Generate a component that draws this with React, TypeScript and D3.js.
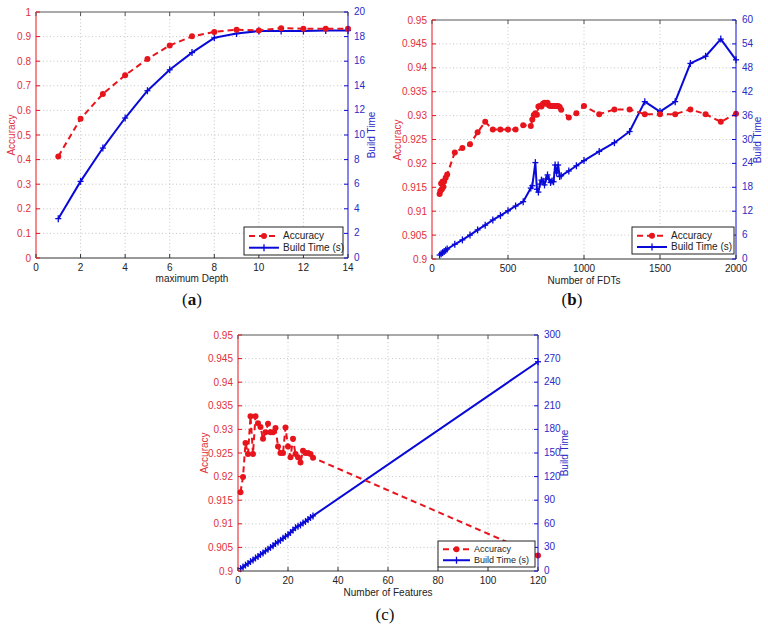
import React from "react";
import * as d3 from "d3";

// ---------- Panel (a): maximum Depth ----------
const depthX = [1, 2, 3, 4, 5, 6, 7, 8, 9, 10, 11, 12, 13, 14];
const depthAcc = [0.413, 0.566, 0.667, 0.743, 0.809, 0.864, 0.901, 0.919, 0.928, 0.925, 0.934, 0.932, 0.932, 0.932];
const depthTime = [3.2, 6.23, 8.94, 11.38, 13.6, 15.3, 16.7, 17.9, 18.25, 18.45, 18.45, 18.45, 18.5, 18.5];
const depthXTicks = [0, 2, 4, 6, 8, 10, 12, 14];
const depthAccTicks = [0, 0.1, 0.2, 0.3, 0.4, 0.5, 0.6, 0.7, 0.8, 0.9, 1];
const depthTimeTicks = [0, 2, 4, 6, 8, 10, 12, 14, 16, 18, 20];

// ---------- Panel (b): Number of FDTs ----------
const fdtAccX = [50, 55, 60, 65, 70, 75, 80, 90, 100, 150, 200, 250, 300, 350, 400, 450, 500, 550, 600, 650, 660, 670, 680, 690, 700, 710, 720, 730, 740, 750, 760, 770, 780, 790, 800, 810, 820, 830, 840, 850, 900, 950, 1000, 1100, 1200, 1300, 1400, 1500, 1600, 1700, 1800, 1900, 2000];
const fdtAcc = [0.9136, 0.9142, 0.9158, 0.9146, 0.9162, 0.9151, 0.9162, 0.917, 0.9177, 0.9223, 0.9232, 0.924, 0.9265, 0.9287, 0.9271, 0.9271, 0.9271, 0.9271, 0.928, 0.9278, 0.9292, 0.9301, 0.9305, 0.9302, 0.9319, 0.932, 0.9319, 0.9325, 0.9327, 0.9325, 0.9327, 0.9321, 0.932, 0.932, 0.932, 0.932, 0.932, 0.932, 0.9318, 0.9312, 0.9296, 0.9305, 0.932, 0.9303, 0.9313, 0.9313, 0.9303, 0.9303, 0.9303, 0.9313, 0.9303, 0.9287, 0.9304];
const fdtTimeX = [50, 60, 70, 80, 90, 100, 150, 200, 250, 300, 350, 400, 450, 500, 550, 600, 650, 660, 680, 690, 700, 710, 720, 730, 740, 750, 760, 770, 780, 790, 800, 810, 820, 830, 840, 850, 900, 950, 1000, 1100, 1200, 1300, 1400, 1500, 1600, 1700, 1800, 1900, 2000];
const fdtTime = [1.0, 1.3, 1.6, 1.9, 2.2, 2.5, 3.7, 4.8, 6.0, 7.3, 8.5, 9.8, 10.9, 12.1, 13.3, 14.4, 17.8, 18.4, 24.2, 17.5, 16.8, 18.8, 19.8, 19.5, 18.6, 20.1, 21.1, 20.0, 19.2, 19.6, 19.4, 23.6, 21.6, 23.6, 20.7, 20.9, 22.1, 23.4, 24.7, 27.0, 29.2, 32.0, 39.5, 37.0, 39.5, 49.1, 50.9, 55.2, 50.0];
const fdtXTicks = [0, 500, 1000, 1500, 2000];
const fdtAccTicks = [0.9, 0.905, 0.91, 0.915, 0.92, 0.925, 0.93, 0.935, 0.94, 0.945, 0.95];
const fdtTimeTicks = [0, 6, 12, 18, 24, 30, 36, 42, 48, 54, 60];

// ---------- Panel (c): Number of Features ----------
const featX = [1, 2, 3, 4, 5, 6, 7, 8, 9, 10, 11, 12, 13, 14, 15, 16, 17, 18, 19, 20, 21, 22, 23, 24, 25, 26, 27, 28, 29, 30, 120];
const featAcc = [0.9167, 0.9199, 0.9271, 0.9248, 0.9328, 0.9248, 0.9328, 0.9313, 0.9305, 0.928, 0.9294, 0.9312, 0.9294, 0.9294, 0.9303, 0.9264, 0.925, 0.925, 0.9304, 0.9264, 0.9241, 0.928, 0.9248, 0.9241, 0.923, 0.9255, 0.925, 0.925, 0.9248, 0.924, 0.9033];
const featTime = [3, 5, 7.5, 9.5, 12, 14, 16.5, 18.5, 21, 23, 25.5, 27.5, 30, 32, 35, 37, 39, 41.5, 44, 46, 49, 52, 55, 57, 58.5, 61, 63, 65.5, 68, 70, 266];
const featXTicks = [0, 20, 40, 60, 80, 100, 120];
const featAccTicks = [0.9, 0.905, 0.91, 0.915, 0.92, 0.925, 0.93, 0.935, 0.94, 0.945, 0.95];
const featTimeTicks = [0, 30, 60, 90, 120, 150, 180, 210, 240, 270, 300];

const RED = "#e8141c";
const BLUE = "#0a0ad8";
const RED_TXT = "#e0303a";
const BLUE_TXT = "#2a2ac8";
const FONT = "'Liberation Sans', Arial, Helvetica, sans-serif";

type PanelProps = {
  box: [number, number, number, number];
  xTicks: number[];
  accTicks: number[];
  timeTicks: number[];
  accX: number[];
  acc: number[];
  timeX: number[];
  time: number[];
  xLabel: string;
  accLabelX: number;
  timeLabelX: number;
  labelY: number;
  xTickDy: number;
  xLabelY: number;
  legend: [number, number, number, number];
  legendFont: number;
  legendLine: number;
};

function fmt(v: number) {
  return String(+v.toFixed(3));
}

function Panel(p: PanelProps) {
  const [x0, y0, x1, y1] = p.box;
  const xs = d3.scaleLinear().domain([p.xTicks[0], p.xTicks[p.xTicks.length - 1]]).range([x0, x1]);
  const ya = d3.scaleLinear().domain([p.accTicks[0], p.accTicks[p.accTicks.length - 1]]).range([y1, y0]);
  const yt = d3.scaleLinear().domain([p.timeTicks[0], p.timeTicks[p.timeTicks.length - 1]]).range([y1, y0]);
  const accPts: [number, number][] = p.accX.map((v, i) => [xs(v), ya(p.acc[i])]);
  const timePts: [number, number][] = p.timeX.map((v, i) => [xs(v), yt(p.time[i])]);
  const line = d3.line();
  const tl = 4;
  const [lx0, ly0, lx1, ly1] = p.legend;
  const r1 = ly0 + (ly1 - ly0) * 0.32;
  const r2 = ly0 + (ly1 - ly0) * 0.74;
  const ll = p.legendLine;
  return (
    <g>
      {p.xTicks.slice(1, -1).map((t) => (
        <line key={"gx" + t} x1={xs(t)} x2={xs(t)} y1={y0} y2={y1} stroke="#b8b8b8" strokeWidth={0.8} strokeDasharray="1,2.5" />
      ))}
      {p.accTicks.slice(1, -1).map((t) => (
        <line key={"gy" + t} x1={x0} x2={x1} y1={ya(t)} y2={ya(t)} stroke="#b8b8b8" strokeWidth={0.8} strokeDasharray="1,2.5" />
      ))}
      <path d={line(timePts) || ""} fill="none" stroke={BLUE} strokeWidth={2} strokeLinejoin="round" />
      {timePts.map(([cx, cy], i) => (
        <g key={"tp" + i} stroke={BLUE} strokeWidth={1.3}>
          <line x1={cx - 3} x2={cx + 3} y1={cy} y2={cy} />
          <line x1={cx} x2={cx} y1={cy - 3.5} y2={cy + 3.5} />
        </g>
      ))}
      <path d={line(accPts) || ""} fill="none" stroke={RED} strokeWidth={2} strokeDasharray="6,4" />
      {accPts.map(([cx, cy], i) => (
        <circle key={"ap" + i} cx={cx} cy={cy} r={3} fill={RED} />
      ))}
      <line x1={x0} x2={x1} y1={y0} y2={y0} stroke="#555" strokeWidth={1} />
      <line x1={x0} x2={x1} y1={y1} y2={y1} stroke="#333" strokeWidth={1} />
      <line x1={x0} x2={x0} y1={y0} y2={y1} stroke={RED} strokeWidth={1} />
      <line x1={x1} x2={x1} y1={y0} y2={y1} stroke={BLUE} strokeWidth={1} />
      {p.xTicks.map((t) => (
        <g key={"xt" + t}>
          <line x1={xs(t)} x2={xs(t)} y1={y1} y2={y1 - tl} stroke="#333" />
          <line x1={xs(t)} x2={xs(t)} y1={y0} y2={y0 + tl} stroke="#555" />
          <text x={xs(t)} y={y1 + p.xTickDy} textAnchor="middle" fontSize={10} fontFamily={FONT} fill="#222">{t}</text>
        </g>
      ))}
      {p.accTicks.map((t) => (
        <g key={"at" + t}>
          <line x1={x0} x2={x0 + tl} y1={ya(t)} y2={ya(t)} stroke={RED} />
          <text x={x0 - 5} y={ya(t)} dy="0.35em" textAnchor="end" fontSize={10} fontFamily={FONT} fill={RED_TXT}>{fmt(t)}</text>
        </g>
      ))}
      {p.timeTicks.map((t) => (
        <g key={"tt" + t}>
          <line x1={x1} x2={x1 - tl} y1={yt(t)} y2={yt(t)} stroke={BLUE} />
          <text x={x1 + 6} y={yt(t)} dy="0.3em" textAnchor="start" fontSize={10} fontFamily={FONT} fill={BLUE_TXT}>{fmt(t)}</text>
        </g>
      ))}
      <text transform={`translate(${p.accLabelX},${p.labelY}) rotate(-90)`} textAnchor="middle" dy="0.35em" fontSize={10} fontFamily={FONT} fill={RED_TXT}>Accuracy</text>
      <text transform={`translate(${p.timeLabelX},${p.labelY}) rotate(-90)`} textAnchor="middle" dy="0.35em" fontSize={10} fontFamily={FONT} fill={BLUE_TXT}>Build Time</text>
      <text x={(x0 + x1) / 2} y={p.xLabelY} textAnchor="middle" fontSize={10} fontFamily={FONT} fill="#222">{p.xLabel}</text>
      <rect x={lx0} y={ly0} width={lx1 - lx0} height={ly1 - ly0} fill="#fff" stroke="#222" strokeWidth={1} />
      <line x1={lx0 + 5} x2={lx0 + 5 + ll} y1={r1} y2={r1} stroke={RED} strokeWidth={2} strokeDasharray="6,4" />
      <circle cx={lx0 + 5 + ll / 2} cy={r1} r={3} fill={RED} />
      <text x={lx0 + 9 + ll} y={r1} dy="0.35em" fontSize={p.legendFont} fontFamily={FONT} fill="#222">Accuracy</text>
      <line x1={lx0 + 5} x2={lx0 + 5 + ll} y1={r2} y2={r2} stroke={BLUE} strokeWidth={2} />
      <line x1={lx0 + 5 + ll / 2} x2={lx0 + 5 + ll / 2} y1={r2 - 3.5} y2={r2 + 3.5} stroke={BLUE} strokeWidth={1.3} />
      <text x={lx0 + 9 + ll} y={r2} dy="0.35em" fontSize={p.legendFont} fontFamily={FONT} fill="#222">Build Time (s)</text>
    </g>
  );
}

const SERIF = "'Liberation Serif', 'DejaVu Serif', serif";

export default function App() {
  return (
    <div style={{ position: "absolute", left: 0, top: 0 }}>
      <svg width={768} height={632} style={{ display: "block", background: "#fff" }}>
        <Panel
          box={[36, 12, 348, 258]}
          xTicks={depthXTicks}
          accTicks={depthAccTicks}
          timeTicks={depthTimeTicks}
          accX={depthX}
          acc={depthAcc}
          timeX={depthX}
          time={depthTime}
          xLabel="maximum Depth"
          accLabelX={11}
          timeLabelX={371}
          labelY={135}
          xTickDy={13}
          xLabelY={282}
          legend={[244, 227, 343, 255]}
          legendFont={10}
          legendLine={30}
        />
        <Panel
          box={[432, 20, 736, 259]}
          xTicks={fdtXTicks}
          accTicks={fdtAccTicks}
          timeTicks={fdtTimeTicks}
          accX={fdtAccX}
          acc={fdtAcc}
          timeX={fdtTimeX}
          time={fdtTime}
          xLabel="Number of FDTs"
          accLabelX={397}
          timeLabelX={757}
          labelY={140}
          xTickDy={13}
          xLabelY={284}
          legend={[632, 227, 734, 254]}
          legendFont={10}
          legendLine={30}
        />
        <Panel
          box={[238, 335, 538, 571]}
          xTicks={featXTicks}
          accTicks={featAccTicks}
          timeTicks={featTimeTicks}
          accX={featX}
          acc={featAcc}
          timeX={featX}
          time={featTime}
          xLabel="Number of Features"
          accLabelX={204}
          timeLabelX={564}
          labelY={453}
          xTickDy={13}
          xLabelY={596}
          legend={[438, 541, 535, 567]}
          legendFont={9}
          legendLine={27}
        />
        <text x={192} y={305} textAnchor="middle" fontSize={17} fontFamily={SERIF} fill="#111">
          (<tspan fontWeight="bold">a</tspan>)
        </text>
        <text x={572} y={305} textAnchor="middle" fontSize={17} fontFamily={SERIF} fill="#111">
          (<tspan fontWeight="bold">b</tspan>)
        </text>
        <text x={385} y={620} textAnchor="middle" fontSize={17} fontFamily={SERIF} fill="#111">
          (c)
        </text>
      </svg>
    </div>
  );
}
